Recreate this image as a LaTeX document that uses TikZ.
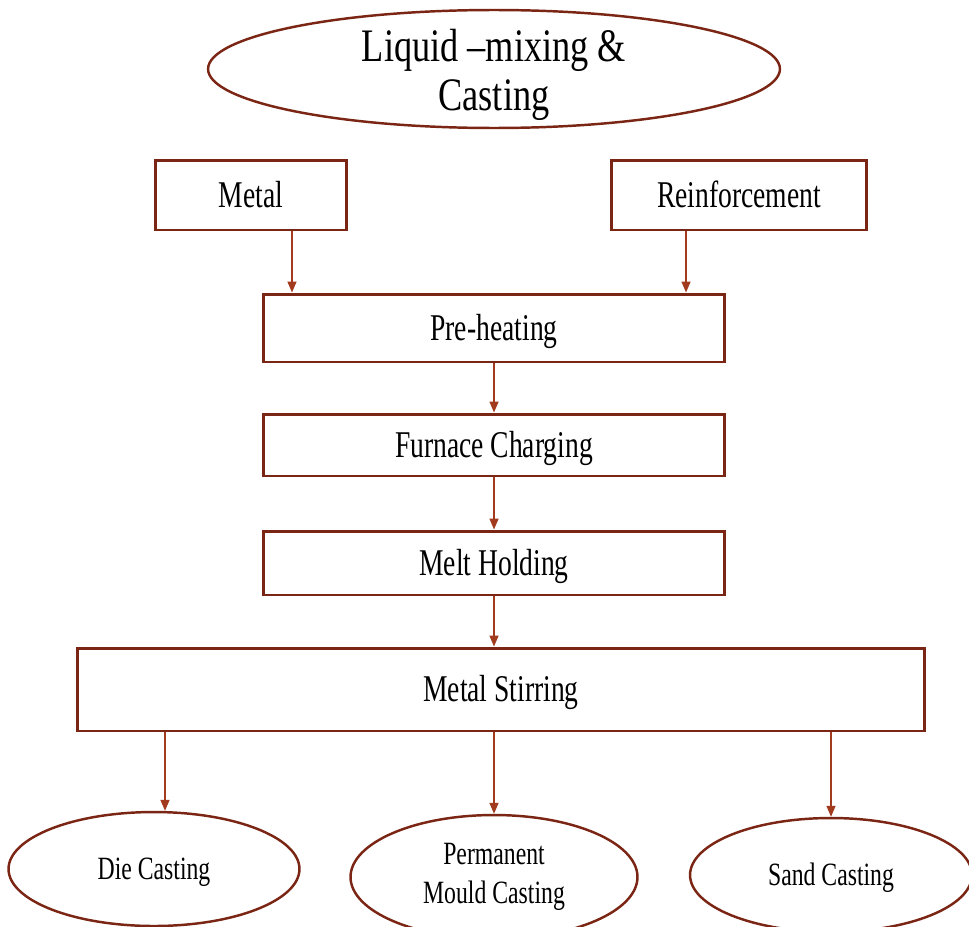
\documentclass[tikz,border=0pt]{standalone}
\usepackage{fontspec}
\newfontfamily\diafont[FakeStretch=0.73]{Liberation Serif}
\newfontfamily\titlefont[FakeStretch=0.78]{Liberation Serif}
\usetikzlibrary{arrows.meta, shapes.geometric}
\definecolor{cborder}{HTML}{7B2614}
\definecolor{carrow}{HTML}{A23A1E}
\tikzset{
  stepbox/.style={draw=cborder, line width=1.7pt, inner sep=0pt, minimum height=1.3cm,
                  text height=14.2pt, text depth=0pt,
                  font=\diafont\fontsize{21.5}{24}\selectfont},
  oval/.style={ellipse, draw=cborder, line width=1.4pt, inner sep=0pt, align=center,
               minimum width=5.75cm, minimum height=2.28cm,
               font=\diafont\fontsize{18.5}{22}\selectfont},
  capmid/.style={text height=12.2pt, text depth=0pt},
  arr/.style={-{Triangle[length=0.22cm, width=0.18cm]}, line width=0.85pt, carrow},
}

\begin{document}
\begin{tikzpicture}[x=0.02cm, y=-0.02cm]
  \useasboundingbox (0,0) rectangle (969,926);

  \node[oval, minimum width=11.44cm, minimum height=2.36cm, inner ysep=-10pt,
        font=\titlefont\fontsize{26.5}{28}\selectfont] (title) at (494, 69) {\rule{0pt}{25pt}Liquid –mixing \&\\Casting};

  \node[stepbox, minimum width=3.84cm, minimum height=1.4cm] (metal) at (251, 195) {Metal};
  \node[stepbox, minimum width=5.12cm, minimum height=1.4cm] (reinf) at (739, 195) {Reinforcement};

  \node[stepbox, minimum width=9.24cm, minimum height=1.36cm] (preheat) at (494, 328) {Pre-heating};
  \node[stepbox, minimum width=9.24cm, minimum height=1.24cm] (furnace) at (494, 445) {Furnace Charging};
  \node[stepbox, minimum width=9.24cm, minimum height=1.28cm] (melt) at (494, 563) {Melt Holding};

  \node[stepbox, minimum width=16.96cm, minimum height=1.66cm] (stir) at (501, 689.5) {Metal Stirring};

  \node[oval, capmid, minimum width=5.82cm] (die) at (154, 869) {Die Casting};
  \node[oval, minimum width=5.74cm, minimum height=2.48cm] (perm) at (494, 877) {Permanent\\Mould Casting};
  \node[oval, capmid, minimum width=5.64cm] (sand) at (831, 875) {Sand Casting};

  \draw[arr] ([xshift=0.82cm]metal.south) -- ([xshift=0.82cm]metal.south |- preheat.north);
  \draw[arr] ([xshift=-1.06cm]reinf.south) -- ([xshift=-1.06cm]reinf.south |- preheat.north);
  \draw[arr] (preheat) -- (furnace);
  \draw[arr] (furnace) -- (melt);
  \draw[arr] (melt) -- (melt.south |- stir.north);

  \draw[arr] ([xshift=0.22cm]die.north |- stir.south) -- ([xshift=0.22cm]die.north);
  \draw[arr] (perm.north |- stir.south) -- (perm.north);
  \draw[arr] (sand.north |- stir.south) -- (sand.north);
\end{tikzpicture}
\end{document}
